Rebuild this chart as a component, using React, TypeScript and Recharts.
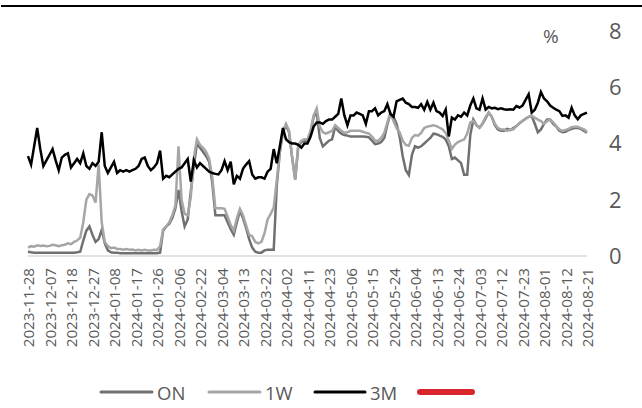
import React from "react";
import { LineChart, Line, XAxis, YAxis } from "recharts";

const DATES = [
  "2023-11-28","2023-11-29","2023-11-30","2023-12-01","2023-12-04","2023-12-05","2023-12-06","2023-12-07",
  "2023-12-08","2023-12-11","2023-12-12","2023-12-13","2023-12-14","2023-12-15","2023-12-18",
  "2023-12-19","2023-12-20","2023-12-21","2023-12-22","2023-12-25","2023-12-26","2023-12-27",
  "2023-12-28","2023-12-29","2024-01-02","2024-01-03","2024-01-04","2024-01-05","2024-01-08",
  "2024-01-09","2024-01-10","2024-01-11","2024-01-12","2024-01-15","2024-01-16","2024-01-17",
  "2024-01-18","2024-01-19","2024-01-22","2024-01-23","2024-01-24","2024-01-25","2024-01-26",
  "2024-01-29","2024-01-30","2024-01-31","2024-02-01","2024-02-02","2024-02-05","2024-02-06",
  "2024-02-07","2024-02-08","2024-02-18","2024-02-19","2024-02-20","2024-02-21","2024-02-22",
  "2024-02-23","2024-02-26","2024-02-27","2024-02-28","2024-02-29","2024-03-01","2024-03-04",
  "2024-03-05","2024-03-06","2024-03-07","2024-03-08","2024-03-11","2024-03-12","2024-03-13",
  "2024-03-14","2024-03-15","2024-03-18","2024-03-19","2024-03-20","2024-03-21","2024-03-22",
  "2024-03-25","2024-03-26","2024-03-27","2024-03-28","2024-03-29","2024-04-01","2024-04-02",
  "2024-04-03","2024-04-04","2024-04-07","2024-04-08","2024-04-09","2024-04-10","2024-04-11",
  "2024-04-12","2024-04-15","2024-04-16","2024-04-17","2024-04-18","2024-04-22","2024-04-23",
  "2024-04-24","2024-04-25","2024-04-26","2024-04-28","2024-04-29","2024-04-30","2024-05-06",
  "2024-05-07","2024-05-08","2024-05-09","2024-05-10","2024-05-13","2024-05-14","2024-05-15",
  "2024-05-16","2024-05-17","2024-05-20","2024-05-21","2024-05-22","2024-05-23","2024-05-24",
  "2024-05-27","2024-05-28","2024-05-29","2024-05-30","2024-05-31","2024-06-03","2024-06-04",
  "2024-06-05","2024-06-06","2024-06-07","2024-06-10","2024-06-11","2024-06-12","2024-06-13",
  "2024-06-14","2024-06-17","2024-06-18","2024-06-19","2024-06-20","2024-06-21","2024-06-24",
  "2024-06-25","2024-06-26","2024-06-27","2024-06-28","2024-07-01","2024-07-02","2024-07-03",
  "2024-07-04","2024-07-05","2024-07-08","2024-07-09","2024-07-10","2024-07-11","2024-07-12",
  "2024-07-15","2024-07-16","2024-07-17","2024-07-18","2024-07-19","2024-07-22","2024-07-23",
  "2024-07-24","2024-07-25","2024-07-26","2024-07-29","2024-07-30","2024-07-31","2024-08-01",
  "2024-08-02","2024-08-05","2024-08-06","2024-08-07","2024-08-08","2024-08-09","2024-08-12",
  "2024-08-13","2024-08-14","2024-08-15","2024-08-16","2024-08-19","2024-08-20","2024-08-21",
];

const ON = [
  0.15, 0.13, 0.12, 0.12, 0.12, 0.12, 0.12, 0.12, 0.12, 0.12,
  0.12, 0.12, 0.12, 0.12, 0.12, 0.12, 0.13, 0.15,
  0.55, 0.9, 1.05, 0.75, 0.5, 0.6, 0.93, 0.45, 0.2,
  0.13, 0.12, 0.12, 0.1, 0.1, 0.1, 0.1, 0.1, 0.1, 0.1, 0.1, 0.1, 0.1, 0.1, 0.1, 0.1, 0.12,
  0.9, 1.05, 1.15, 1.35, 1.7,
  2.35, 1.6, 1.05, 1.3, 2.3, 3.2, 4.0, 3.85, 3.7, 3.55, 3.35, 2.6,
  1.45, 1.45, 1.45, 1.45, 1.2, 0.95, 0.75, 1.2, 1.6, 1.35, 1.0, 0.6,
  0.3, 0.15, 0.12, 0.12, 0.2, 0.22, 0.22, 0.22,
  2.5, 3.7, 4.4, 4.65, 4.4, 3.5, 2.72, 3.9, 4.05, 4.1, 4.1, 4.4, 4.95, 5.1,
  4.2, 3.9, 4.0, 4.1, 4.15, 4.6, 4.45, 4.35, 4.3, 4.28, 4.25, 4.25, 4.25, 4.25, 4.25,
  4.24, 4.22, 4.1, 3.98, 4.0, 4.05, 4.2, 4.68, 5.05,
  4.95, 4.7, 4.25, 3.55, 3.05, 2.88, 3.6, 3.9, 3.85, 3.9, 4.0, 4.1, 4.2, 4.35, 4.33, 4.28,
  4.24, 4.14, 3.9, 3.45, 3.5, 3.4, 3.3, 2.89, 2.89, 4.3, 4.85, 4.65,
  4.56, 4.7, 4.9, 5.1, 4.95, 4.65, 4.5, 4.45, 4.45, 4.52, 4.48, 4.55, 4.62, 4.72, 4.8, 4.88,
  4.95, 4.98, 4.7, 4.4, 4.5, 4.7, 4.85, 4.85, 4.7, 4.6, 4.45, 4.4, 4.42, 4.48, 4.52, 4.55,
  4.55, 4.52, 4.45, 4.38,
];

const W1 = [
  0.3, 0.35, 0.33, 0.38, 0.36, 0.37, 0.35, 0.36, 0.4, 0.38, 0.35, 0.38, 0.4, 0.45, 0.42, 0.5, 0.55, 0.65,
  1.2, 2.0, 2.2, 2.15, 1.9, 3.25, 1.2, 0.5, 0.35,
  0.28, 0.3, 0.25, 0.25, 0.22, 0.25, 0.22, 0.23, 0.2, 0.22, 0.2, 0.22, 0.2, 0.2, 0.22, 0.21,
  0.35, 0.95, 1.05, 1.2, 1.45, 1.8,
  3.9, 2.0, 1.5, 1.45, 2.1, 3.5, 4.15, 3.95, 3.85, 3.7, 3.45, 2.8,
  1.7, 1.7, 1.7, 1.68, 1.4, 1.1, 0.9, 1.35, 1.68, 1.45, 1.1, 0.75,
  0.7, 0.5, 0.45, 0.5, 0.8, 1.3, 1.5, 1.72,
  2.7, 3.75, 4.45, 4.7, 4.45, 3.5, 2.72, 3.95, 4.1, 4.15, 4.15, 4.45, 5.0, 5.25,
  4.6, 4.4, 4.35, 4.4, 4.45, 4.65, 4.55, 4.45, 4.38, 4.4, 4.45, 4.45, 4.45, 4.45, 4.42,
  4.38, 4.35, 4.25, 4.1, 4.1, 4.2, 4.38, 4.75, 5.1,
  4.8, 4.55, 4.4, 4.1, 3.95, 3.92, 4.2, 4.3, 4.28, 4.38, 4.55, 4.6, 4.62, 4.65, 4.62, 4.56,
  4.5, 4.38, 4.1, 3.8, 3.96, 4.05, 4.1, 4.14, 4.35, 4.75, 4.8, 4.65,
  4.56, 4.72, 4.95, 5.1, 4.95, 4.7, 4.55, 4.5, 4.5, 4.45, 4.5, 4.5, 4.62, 4.72, 4.8, 4.88,
  4.95, 4.98, 4.92, 4.85, 4.8, 4.7, 4.8, 4.85, 4.75, 4.62, 4.5, 4.45, 4.48, 4.52, 4.58, 4.6,
  4.6, 4.55, 4.5, 4.42,
];

const M3 = [
  3.55, 3.25, 3.9, 4.55, 3.8, 3.2, 3.4, 3.6, 3.8, 3.4,
  3.05, 3.5, 3.6, 3.65, 3.15, 3.3, 3.45, 3.3, 3.65, 3.2,
  3.1, 3.3, 3.2, 3.35, 4.4, 3.2, 2.95, 3.15, 3.35, 2.95,
  3.05, 3.0, 3.05, 3.0, 3.05, 3.1, 3.2, 3.45, 3.5, 3.2,
  3.05, 3.15, 3.3, 3.75, 2.75, 2.85, 2.8, 2.9, 3.0, 3.1,
  3.15, 3.3, 3.45, 2.65, 3.4, 3.15, 3.3, 3.2, 3.1, 3.0,
  2.95, 2.92, 2.9, 3.05, 3.37, 3.05, 3.35, 2.55, 2.85, 2.75,
  3.1, 3.25, 3.37, 2.9, 2.75, 2.8, 2.8, 2.75, 3.0, 3.1,
  3.8, 3.3, 3.9, 4.55, 4.15, 4.05, 4.0, 4.0, 3.95, 3.85,
  4.0, 4.0, 4.25, 4.6, 4.75, 4.75, 4.7, 4.8, 4.85, 4.85,
  4.95, 5.05, 5.6, 5.0, 4.65, 5.0, 5.0, 5.1, 5.05, 5.0,
  4.7, 5.15, 5.15, 5.25, 5.0, 5.1, 5.15, 5.4, 5.05, 4.95,
  5.5, 5.55, 5.6, 5.45, 5.4, 5.3, 5.3, 5.27, 5.4, 5.2,
  5.48, 5.2, 5.45, 5.15, 5.1, 4.98, 5.21, 4.25, 4.92, 4.85,
  5.0, 4.95, 5.1, 5.0, 5.35, 5.6, 5.25, 5.2, 5.6, 5.21,
  5.3, 5.25, 5.27, 5.22, 5.25, 5.22, 5.2, 5.22, 5.2, 5.33,
  5.28, 5.35, 5.55, 5.75, 5.1, 5.2, 5.45, 5.83, 5.6, 5.5,
  5.35, 5.27, 5.2, 5.15, 4.98, 5.0, 4.92, 5.27, 5.0, 4.86,
  5.0, 5.05, 5.1,
];

const Y_TICKS = [0, 2, 4, 6, 8];
const SERIES_NAMES = ["ON", "1W", "3M", ""];
const COLORS = { on: "#707070", w1: "#a6a6a6", m3: "#000000", red: "#d9262e" };

const data = DATES.map((d, i) => ({ date: d, on: ON[i], w1: W1[i], m3: M3[i] }));

const FONT = "'Open Sans', 'DejaVu Sans', sans-serif";

const DateTick = (props: any) => {
  const { x, y, payload } = props;
  return (
    <text
      x={x}
      y={y}
      transform={`rotate(-90, ${x}, ${y})`}
      textAnchor="end"
      dominantBaseline="central"
      fontSize={15.2}
      fontFamily={FONT}
      fill="#595959"
    >
      {payload.value}
    </text>
  );
};

export default function App() {
  const legendItems = [
    { name: SERIES_NAMES[0], color: COLORS.on, x: 101, w: 51, sw: 3 },
    { name: SERIES_NAMES[1], color: COLORS.w1, x: 209, w: 51, sw: 3 },
    { name: SERIES_NAMES[2], color: COLORS.m3, x: 315, w: 50, sw: 3 },
    { name: SERIES_NAMES[3], color: COLORS.red, x: 420, w: 52, sw: 6 },
  ];
  return (
    <div style={{ position: "absolute", left: 0, top: 0, width: 642, height: 408, background: "#fff" }}>
      <div style={{ position: "absolute", left: 1, top: 5, width: 641, height: 0, borderTop: "2.5px solid #000" }} />
      <div style={{ position: "absolute", left: 0, top: 0 }}>
        <LineChart width={642} height={408} data={data} margin={{ top: 31, right: 0, bottom: 62, left: 28 }}>
          <XAxis
            dataKey="date"
            interval={6}
            tickLine={false}
            tickSize={0}
            tickMargin={12}
            height={90}
            axisLine={{ stroke: "#d9d9d9", strokeWidth: 1.5 }}
            tick={<DateTick />}
          />
          <YAxis
            orientation="right"
            domain={[0, 8]}
            ticks={Y_TICKS}
            axisLine={false}
            tickLine={false}
            tickSize={0}
            tickMargin={22}
            width={55}
            tick={{ fontSize: 22, fill: "#595959", fontFamily: FONT }}
          />
          <Line type="linear" dataKey="on" stroke={COLORS.on} strokeWidth={2.5} dot={false} isAnimationActive={false} />
          <Line type="linear" dataKey="w1" stroke={COLORS.w1} strokeWidth={2.5} dot={false} isAnimationActive={false} />
          <Line type="linear" dataKey="m3" stroke={COLORS.m3} strokeWidth={2.5} dot={false} isAnimationActive={false} />
        </LineChart>
      </div>
      <div style={{ position: "absolute", left: 543, top: 23, fontSize: 19, color: "#595959", fontFamily: FONT }}>%</div>
      <svg style={{ position: "absolute", left: 0, top: 370 }} width={642} height={38}>
        {legendItems.map((it) => (
          <g key={it.x}>
            <line x1={it.x} x2={it.x + it.w} y1={22} y2={22} stroke={it.color} strokeWidth={it.sw} strokeLinecap="round" />
            {it.name ? (
              <text x={it.x + it.w + 5} y={22} dominantBaseline="central" fontSize={18.5} fontFamily={FONT} fill="#595959">
                {it.name}
              </text>
            ) : null}
          </g>
        ))}
      </svg>
    </div>
  );
}
